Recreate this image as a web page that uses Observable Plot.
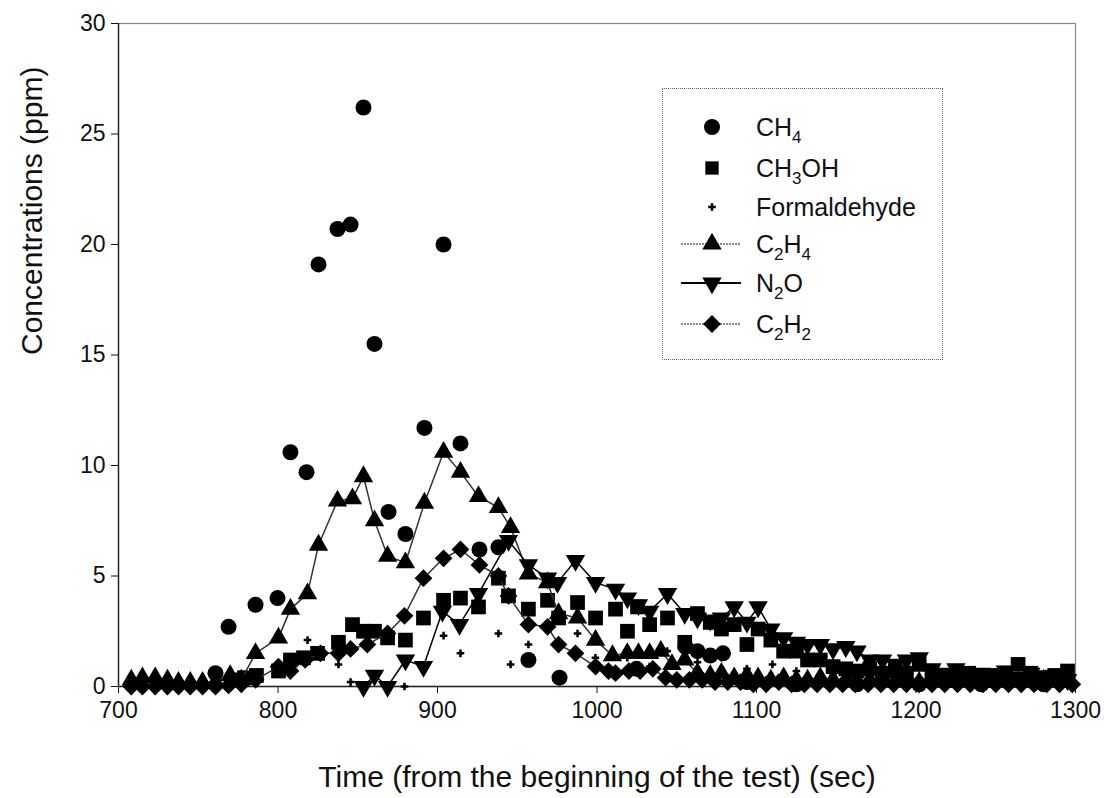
<!DOCTYPE html>
<html>
<head>
<meta charset="utf-8">
<script src="https://cdn.jsdelivr.net/npm/d3@7"></script>
<script src="https://cdn.jsdelivr.net/npm/@observablehq/plot@0.6"></script>
<style>
  html, body { margin: 0; padding: 0; background: #fff; }
  #wrap { position: relative; width: 1104px; height: 798px; font-family: "Liberation Sans", Arial, sans-serif; }
  #legend { position: absolute; left: 662px; top: 88px; width: 281px; height: 272px;
            border: 1.5px dotted #666; background: #fff; box-sizing: border-box; }
  #legend svg { position: absolute; left: 0; top: 0; }
</style>
</head>
<body>
<div id="wrap"><div id="chart"></div><div id="legend"></div></div>
<script>
// ---------- data (time in s, concentration in ppm) ----------
const ch4Time = [760.8, 769, 785.9, 799.7, 807.8, 817.9, 825.4, 837.3, 845.5, 853.6, 860.5, 869.3, 879.9, 891.8, 903.8, 914.4, 926.3, 938.2, 957, 976.5, 1024.8, 1055.5, 1063, 1071, 1079, 1094, 1125, 1163, 1202, 1241, 1280];
const ch4Vals = [0.6, 2.7, 3.7, 4.0, 10.6, 9.7, 19.1, 20.7, 20.9, 26.2, 15.5, 7.9, 6.9, 11.7, 20.0, 11.0, 6.2, 6.3, 1.2, 0.4, 0.8, 1.8, 1.6, 1.4, 1.5, 0.2, 0.1, 0.1, 0.1, 0.1, 0.1];

const ch3ohTime = [772, 779, 786.5, 800.3, 807.8, 816, 824.8, 837.9, 846.7, 853.6, 860.5, 868.7, 879.9, 891.2, 903.8, 914.4, 925.7, 938.2, 944.5, 957, 969, 975.9, 987.8, 999.1, 1011.6, 1019.1, 1025.4, 1033, 1044.2,
  1055, 1063, 1071, 1078, 1086, 1094, 1101, 1109, 1117, 1125, 1132, 1140, 1148, 1156, 1163, 1171, 1179, 1187, 1194, 1202, 1210, 1218, 1225, 1233, 1241, 1249, 1256, 1264, 1272, 1280, 1287, 1295];
const ch3ohVals = [0.3, 0.4, 0.5, 0.7, 1.2, 1.3, 1.5, 2.0, 2.8, 2.5, 2.5, 2.2, 2.1, 3.1, 3.9, 4.0, 3.6, 4.9, 4.1, 3.5, 3.9, 3.1, 3.8, 3.1, 3.5, 2.5, 3.6, 2.8, 3.1,
  2.0, 3.3, 2.9, 2.6, 2.8, 1.9, 2.6, 2.1, 1.6, 1.6, 1.2, 1.2, 0.9, 0.8, 0.7, 0.8, 0.6, 0.7, 0.6, 1.0, 0.6, 0.5, 0.4, 0.6, 0.4, 0.5, 0.6, 1.0, 0.6, 0.4, 0.5, 0.7];

const hchoTime = [818.5, 837.9, 845.5, 879.3, 903.8, 914.4, 938.2, 945.8, 957, 987.8, 999, 1019, 1033, 1044, 1063, 1078, 1094, 1110, 1125, 1148, 1171, 1194, 1218, 1241, 1264, 1287];
const hchoVals = [2.1, 1.0, 0.2, 0.0, 2.3, 1.5, 2.4, 1.0, 1.9, 2.4, 1.3, 1.3, 0.9, 1.6, 1.1, 1.3, 0.8, 1.0, 0.7, 0.5, 0.4, 0.5, 0.3, 0.4, 0.3, 0.4];

const c2h4Time = [708, 715, 723, 730.7, 737.6, 745, 752.7, 760.8, 770, 777, 785.9, 800.3, 807.8, 818.5, 825.4, 837.3, 846.7, 853.6, 860.5, 868.7, 879.9, 891.8, 903.8, 914.4, 925.7, 938.2, 945.8, 957, 969, 975.9, 987.8, 999.1, 1009.7, 1019, 1026, 1033, 1040, 1047,
  1055, 1063, 1071, 1078, 1086, 1094, 1101, 1109, 1117, 1125, 1132, 1140, 1148, 1156, 1163, 1171, 1179, 1187, 1194, 1202, 1210, 1218, 1225, 1233, 1241, 1249, 1256, 1264, 1272, 1280, 1287, 1295];
const c2h4Vals = [0.3, 0.4, 0.4, 0.3, 0.2, 0.2, 0.2, 0.2, 0.5, 0.3, 1.5, 2.2, 3.5, 4.2, 6.4, 8.4, 8.5, 9.5, 7.5, 5.9, 5.6, 8.3, 10.6, 9.7, 8.6, 8.1, 7.2, 5.1, 4.7, 3.3, 3.1, 2.1, 1.4, 1.5, 1.5, 1.5, 1.6, 1.0,
  1.2, 0.6, 0.5, 0.6, 0.4, 0.5, 0.4, 0.3, 0.4, 0.3, 0.3, 0.4, 0.3, 0.3, 0.2, 0.3, 0.3, 0.2, 0.3, 0.2, 0.3, 0.2, 0.2, 0.3, 0.2, 0.2, 0.3, 0.2, 0.2, 0.3, 0.2, 0.2];

const n2oTime = [853.6, 860.5, 868.7, 879.9, 891.2, 903.1, 913.8, 925.7, 944.5, 957, 969, 975.2, 986.5, 999.1, 1011.6, 1019.1, 1026, 1033, 1044.2,
  1055, 1063, 1071, 1078, 1086, 1094, 1101, 1109, 1117, 1125, 1132, 1140, 1148, 1156, 1163, 1171, 1179, 1187, 1194, 1202, 1210, 1218, 1225, 1233, 1241, 1249, 1256, 1264, 1272, 1280, 1287, 1295];
const n2oVals = [0.0, 0.5, 0.0, 1.2, 0.9, 3.4, 2.8, 4.2, 6.6, 5.5, 4.9, 4.7, 5.7, 4.7, 4.4, 4.0, 3.7, 3.4, 4.2,
  3.3, 3.1, 3.0, 3.1, 3.6, 2.9, 3.6, 2.6, 2.2, 2.0, 1.9, 1.9, 1.7, 1.8, 1.6, 1.2, 1.2, 1.0, 1.2, 1.3, 0.8, 0.6, 0.8, 0.5, 0.6, 0.5, 0.7, 0.4, 0.6, 0.3, 0.5, 0.3];

const c2h2Time = [708, 715, 723, 730.7, 737.6, 745, 752.7, 760.8, 769, 777, 786, 800.3, 807.8, 817, 826.6, 837.9, 845.5, 856, 868.7, 879.3, 891.2, 903.8, 914.4, 926.3, 938.2, 944.5, 957, 969, 975.9, 986.5, 999.1, 1007.2, 1011.6, 1020, 1027, 1035, 1043, 1050,
  1058, 1066, 1074, 1082, 1090, 1098, 1106, 1114, 1122, 1130, 1138, 1146, 1154, 1162, 1170, 1178, 1186, 1194, 1202, 1210, 1218, 1226, 1234, 1242, 1250, 1258, 1266, 1274, 1282, 1290, 1298];
const c2h2Vals = [0.0, 0.0, 0.0, 0.0, 0.0, 0.0, 0.0, 0.0, 0.05, 0.1, 0.3, 0.9, 0.7, 1.2, 1.5, 1.5, 1.7, 1.9, 2.4, 3.2, 4.9, 5.8, 6.2, 5.5, 5.0, 4.1, 2.8, 2.7, 1.9, 1.5, 0.9, 0.7, 0.6, 0.7, 0.7, 0.8, 0.4, 0.3,
  0.3, 0.3, 0.2, 0.2, 0.2, 0.1, 0.1, 0.2, 0.1, 0.1, 0.1, 0.1, 0.1, 0.1, 0.1, 0.1, 0.1, 0.1, 0.1, 0.1, 0.1, 0.1, 0.1, 0.1, 0.1, 0.1, 0.1, 0.1, 0.1, 0.1, 0.1];

const xTicks = [700, 800, 900, 1000, 1100, 1200, 1300];
const yTicks = [0, 5, 10, 15, 20, 25, 30];

// ---------- helpers ----------
const rows = (t, v) => t.map((x, i) => ({t: x, v: v[i]}));
const sqrt3 = Math.sqrt(3);
const triangleDown = {
  draw(context, size) {
    const y = Math.sqrt(size / (sqrt3 * 3));
    context.moveTo(0, y * 2);
    context.lineTo(-sqrt3 * y, -y);
    context.lineTo(sqrt3 * y, -y);
    context.closePath();
  }
};

const CH4 = rows(ch4Time, ch4Vals);
const CH3OH = rows(ch3ohTime, ch3ohVals);
const HCHO = rows(hchoTime, hchoVals);
const C2H4 = rows(c2h4Time, c2h4Vals);
const N2O = rows(n2oTime, n2oVals);
const C2H2 = rows(c2h2Time, c2h2Vals);

const font = "'Liberation Sans', Arial, sans-serif";
const chart = Plot.plot({
  width: 1104,
  height: 798,
  marginLeft: 118,
  marginRight: 29,
  marginTop: 23,
  marginBottom: 112,
  style: {fontFamily: font, fontSize: "23px", color: "#111", background: "#fff", overflow: "visible"},
  x: {domain: [700, 1300], ticks: xTicks},
  y: {domain: [0, 30], ticks: yTicks},
  marks: [
    Plot.frame({stroke: "#888", strokeWidth: 1.2}),
    Plot.axisX({ticks: xTicks, tickFormat: d => String(d), tickSize: 7, tickPadding: 8, fontSize: 23, label: null}),
    Plot.axisY({ticks: yTicks, tickFormat: d => String(d), tickSize: 7, tickPadding: 6, fontSize: 23, label: null}),
    Plot.ruleY([0], {stroke: "#222", strokeWidth: 1.4}),
    Plot.ruleX([700], {stroke: "#222", strokeWidth: 1.4}),
    Plot.text(["Time (from the beginning of the test) (sec)"], {frameAnchor: "bottom", dy: 100, fontSize: 30, fill: "#111"}),
    Plot.text(["Concentrations (ppm)"], {frameAnchor: "left", dx: -86, rotate: -90, fontSize: 30, fill: "#111"}),
    Plot.dot(CH4, {x: "t", y: "v", symbol: "circle", r: 8, fill: "#000", stroke: "none"}),
    Plot.dot(CH3OH, {x: "t", y: "v", symbol: "square", r: 8.3, fill: "#000", stroke: "none"}),
    Plot.dot(HCHO, {x: "t", y: "v", symbol: "cross", r: 3.2, fill: "#000", stroke: "none"}),
    Plot.line(C2H4, {x: "t", y: "v", stroke: "#333", strokeWidth: 1.5}),
    Plot.dot(C2H4, {x: "t", y: "v", symbol: "triangle", r: 7.2, fill: "#000", stroke: "none"}),
    Plot.line(N2O, {x: "t", y: "v", stroke: "#000", strokeWidth: 1.5}),
    Plot.dot(N2O, {x: "t", y: "v", symbol: triangleDown, r: 7.2, fill: "#000", stroke: "none"}),
    Plot.line(C2H2, {x: "t", y: "v", stroke: "#333", strokeWidth: 1.5}),
    Plot.dot(C2H2, {x: "t", y: "v", symbol: "diamond2", r: 8, fill: "#000", stroke: "none"})
  ]
});
document.getElementById("chart").appendChild(chart);

// ---------- legend ----------
const legendItems = [
  {name: "CH", sub: "4", tail: "", symbol: d3.symbolCircle, r: 8, line: null},
  {name: "CH", sub: "3", tail: "OH", symbol: d3.symbolSquare, r: 7.5, line: null},
  {name: "Formaldehyde", sub: "", tail: "", symbol: d3.symbolCross, r: 3.2, line: null},
  {name: "C", sub: "2", tail: "H", sub2: "4", symbol: d3.symbolTriangle, r: 7.2, line: "#888"},
  {name: "N", sub: "2", tail: "O", symbol: triangleDown, r: 7.2, line: "#000"},
  {name: "C", sub: "2", tail: "H", sub2: "2", symbol: d3.symbolDiamond2, r: 8, line: "#888"}
];
const lsvg = d3.select("#legend").append("svg").attr("width", 281).attr("height", 272);
const rowY = [38, 79, 118, 155, 194, 235];
legendItems.forEach((d, i) => {
  const g = lsvg.append("g").attr("transform", `translate(0,${rowY[i]})`);
  if (d.line) {
    g.append("line").attr("x1", 18).attr("x2", 78).attr("y1", 0).attr("y2", 0)
      .attr("stroke", d.line).attr("stroke-width", 1.8)
      .attr("stroke-dasharray", d.line === "#888" ? "2,1" : null);
  }
  g.append("path").attr("transform", "translate(49,0)")
    .attr("d", d3.symbol(d.symbol, Math.PI * d.r * d.r)()).attr("fill", "#000");
  const t = g.append("text").attr("x", 93).attr("y", 9)
    .attr("font-family", font).attr("font-size", 25).attr("fill", "#111");
  t.append("tspan").text(d.name);
  if (d.sub) t.append("tspan").attr("dy", 7).attr("font-size", 17).text(d.sub);
  if (d.tail) t.append("tspan").attr("dy", d.sub ? -7 : 0).text(d.tail);
  if (d.sub2) t.append("tspan").attr("dy", 7).attr("font-size", 17).text(d.sub2);
});
</script>
</body>
</html>
